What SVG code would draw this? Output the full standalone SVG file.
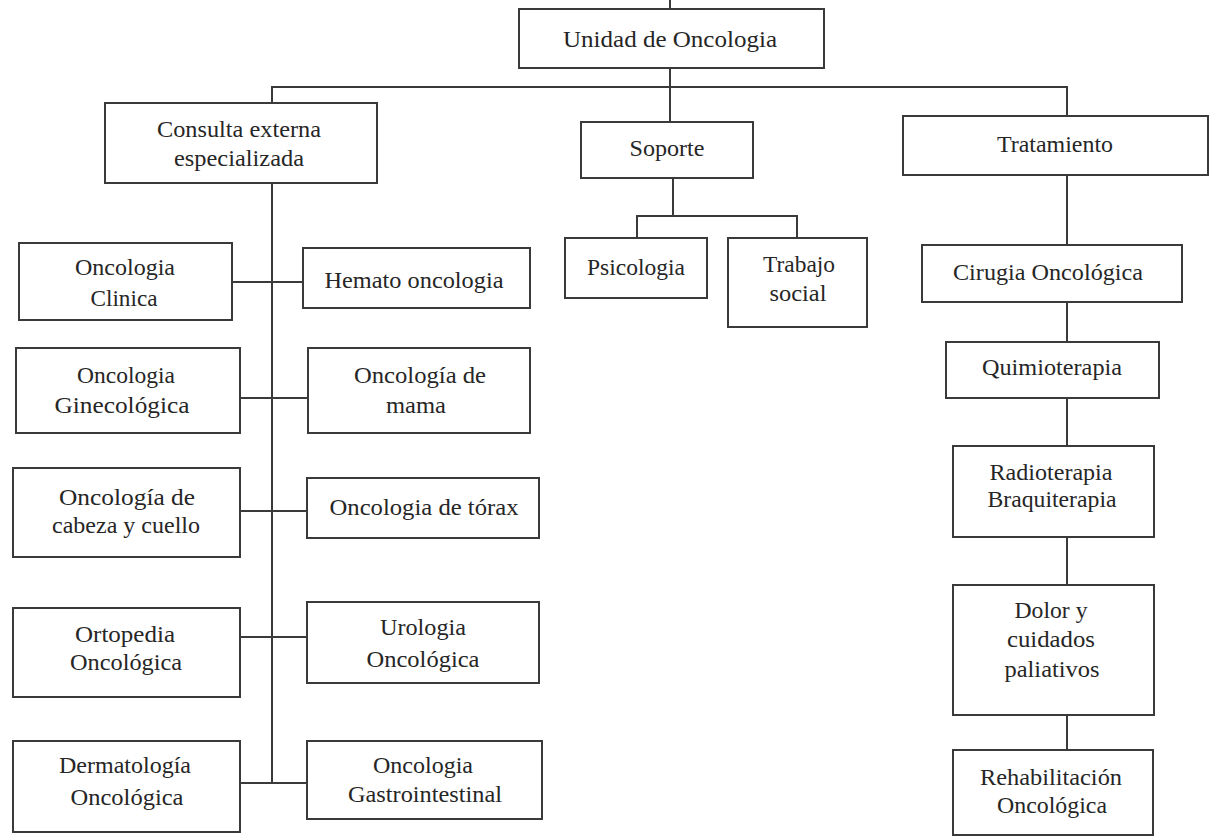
<svg xmlns="http://www.w3.org/2000/svg" width="1216" height="836" viewBox="0 0 1216 836">
  <style>
    .box { fill: #ffffff; stroke: #3a3a3a; stroke-width: 2; }
    .wire { fill: none; stroke: #3a3a3a; stroke-width: 2; }
    text { font-family: "Liberation Serif", "Times New Roman", serif; font-size: 23px; fill: #262626; text-anchor: middle; }
  </style>
  <rect x="0" y="0" width="1216" height="836" fill="#ffffff"/>

  <!-- connectors -->
  <g id="connectors" class="wire">
    <path d="M670 0 V9"/>
    <path d="M670 68 V122"/>
    <path d="M272 103 V87 H1067 V116"/>
    <path d="M673 178 V216"/>
    <path d="M637 238 V216 H797 V238"/>
    <path d="M272 183 V783"/>
    <path d="M231 282 H303"/>
    <path d="M240 398 H308"/>
    <path d="M240 511 H307"/>
    <path d="M240 637 H307"/>
    <path d="M240 783 H307"/>
    <path d="M1067 175 V245"/>
    <path d="M1067 302 V342"/>
    <path d="M1067 398 V446"/>
    <path d="M1067 537 V585"/>
    <path d="M1067 715 V750"/>
  </g>

  <g id="unidad">
    <rect class="box" x="519" y="9" width="305" height="59"/>
    <text x="670" y="47" textLength="214" lengthAdjust="spacingAndGlyphs">Unidad de Oncologia</text>
  </g>

  <g id="consulta">
    <rect class="box" x="105" y="103" width="272" height="80"/>
    <text x="239" y="137" textLength="164" lengthAdjust="spacingAndGlyphs">Consulta externa</text>
    <text x="239" y="166" textLength="130" lengthAdjust="spacingAndGlyphs">especializada</text>
  </g>

  <g id="soporte">
    <rect class="box" x="581" y="122" width="172" height="56"/>
    <text x="667" y="156" textLength="75" lengthAdjust="spacingAndGlyphs">Soporte</text>
  </g>

  <g id="tratamiento">
    <rect class="box" x="903" y="116" width="305" height="59"/>
    <text x="1055" y="152" textLength="116" lengthAdjust="spacingAndGlyphs">Tratamiento</text>
  </g>

  <g id="psicologia">
    <rect class="box" x="565" y="238" width="142" height="60"/>
    <text x="636" y="275" textLength="98" lengthAdjust="spacingAndGlyphs">Psicologia</text>
  </g>

  <g id="trabajo-social">
    <rect class="box" x="728" y="238" width="139" height="89"/>
    <text x="799" y="272" textLength="72" lengthAdjust="spacingAndGlyphs">Trabajo</text>
    <text x="798" y="301" textLength="57" lengthAdjust="spacingAndGlyphs">social</text>
  </g>

  <g id="oncologia-clinica">
    <rect class="box" x="19" y="243" width="213" height="77"/>
    <text x="125" y="275" textLength="100" lengthAdjust="spacingAndGlyphs">Oncologia</text>
    <text x="124" y="306" textLength="67" lengthAdjust="spacingAndGlyphs">Clinica</text>
  </g>

  <g id="hemato-oncologia">
    <rect class="box" x="303" y="248" width="227" height="60"/>
    <text x="414" y="288" textLength="179" lengthAdjust="spacingAndGlyphs">Hemato oncologia</text>
  </g>

  <g id="oncologia-ginecologica">
    <rect class="box" x="16" y="348" width="224" height="85"/>
    <text x="126" y="383" textLength="98" lengthAdjust="spacingAndGlyphs">Oncologia</text>
    <text x="122" y="413" textLength="135" lengthAdjust="spacingAndGlyphs">Ginecológica</text>
  </g>

  <g id="oncologia-mama">
    <rect class="box" x="308" y="348" width="222" height="85"/>
    <text x="420" y="383" textLength="132" lengthAdjust="spacingAndGlyphs">Oncología de</text>
    <text x="416" y="413" textLength="60" lengthAdjust="spacingAndGlyphs">mama</text>
  </g>

  <g id="oncologia-cabeza-cuello">
    <rect class="box" x="13" y="468" width="227" height="89"/>
    <text x="127" y="505" textLength="136" lengthAdjust="spacingAndGlyphs">Oncología de</text>
    <text x="126" y="533" textLength="148" lengthAdjust="spacingAndGlyphs">cabeza y cuello</text>
  </g>

  <g id="oncologia-torax">
    <rect class="box" x="307" y="478" width="232" height="60"/>
    <text x="424" y="515" textLength="189" lengthAdjust="spacingAndGlyphs">Oncologia de tórax</text>
  </g>

  <g id="ortopedia-oncologica">
    <rect class="box" x="13" y="608" width="227" height="89"/>
    <text x="125" y="642" textLength="100" lengthAdjust="spacingAndGlyphs">Ortopedia</text>
    <text x="126" y="670" textLength="112" lengthAdjust="spacingAndGlyphs">Oncológica</text>
  </g>

  <g id="urologia-oncologica">
    <rect class="box" x="307" y="602" width="232" height="81"/>
    <text x="423" y="635" textLength="86" lengthAdjust="spacingAndGlyphs">Urologia</text>
    <text x="423" y="667" textLength="113" lengthAdjust="spacingAndGlyphs">Oncológica</text>
  </g>

  <g id="dermatologia-oncologica">
    <rect class="box" x="13" y="741" width="227" height="91"/>
    <text x="125" y="773" textLength="132" lengthAdjust="spacingAndGlyphs">Dermatología</text>
    <text x="127" y="805" textLength="113" lengthAdjust="spacingAndGlyphs">Oncológica</text>
  </g>

  <g id="oncologia-gastrointestinal">
    <rect class="box" x="307" y="741" width="235" height="78"/>
    <text x="423" y="773" textLength="100" lengthAdjust="spacingAndGlyphs">Oncologia</text>
    <text x="425" y="802" textLength="154" lengthAdjust="spacingAndGlyphs">Gastrointestinal</text>
  </g>

  <g id="cirugia-oncologica">
    <rect class="box" x="922" y="245" width="260" height="57"/>
    <text x="1048" y="280" textLength="190" lengthAdjust="spacingAndGlyphs">Cirugia Oncológica</text>
  </g>

  <g id="quimioterapia">
    <rect class="box" x="946" y="342" width="213" height="56"/>
    <text x="1052" y="375" textLength="140" lengthAdjust="spacingAndGlyphs">Quimioterapia</text>
  </g>

  <g id="radioterapia">
    <rect class="box" x="953" y="446" width="201" height="91"/>
    <text x="1051" y="480" textLength="123" lengthAdjust="spacingAndGlyphs">Radioterapia</text>
    <text x="1052" y="507" textLength="129" lengthAdjust="spacingAndGlyphs">Braquiterapia</text>
  </g>

  <g id="dolor-cuidados">
    <rect class="box" x="953" y="585" width="201" height="130"/>
    <text x="1051" y="618" textLength="73" lengthAdjust="spacingAndGlyphs">Dolor y</text>
    <text x="1051" y="647" textLength="88" lengthAdjust="spacingAndGlyphs">cuidados</text>
    <text x="1052" y="677" textLength="95" lengthAdjust="spacingAndGlyphs">paliativos</text>
  </g>

  <g id="rehabilitacion">
    <rect class="box" x="953" y="750" width="200" height="85"/>
    <text x="1051" y="785" textLength="142" lengthAdjust="spacingAndGlyphs">Rehabilitación</text>
    <text x="1052" y="813" textLength="110" lengthAdjust="spacingAndGlyphs">Oncológica</text>
  </g>
</svg>
